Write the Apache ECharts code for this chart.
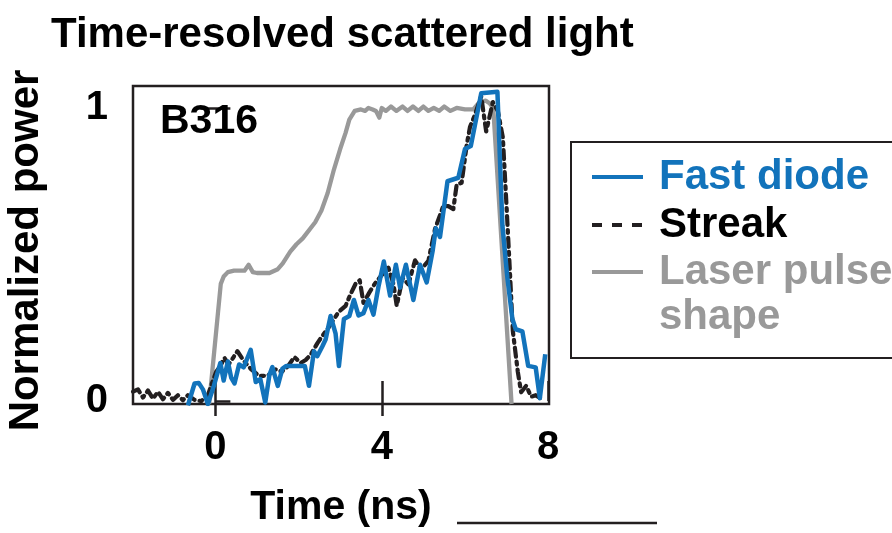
<!DOCTYPE html>
<html>
<head>
<meta charset="utf-8">
<script src="https://cdn.jsdelivr.net/npm/echarts@6/dist/echarts.min.js"></script>
<style>
  html, body { margin: 0; padding: 0; background: #ffffff; }
  #chart { width: 892px; height: 533px; }
</style>
</head>
<body>
<div id="chart"></div>
<script>
// ---- Data ----
const xTickValues = [0, 4, 8];
const yTickValues = [0, 1];

// Laser pulse shape (gray)
const laserTime  = [-0.15, 0.13, 0.2, 0.3, 0.45, 0.7, 0.8, 0.9, 1.0, 1.3, 1.5, 1.62, 1.8, 1.95, 2.1, 2.4, 2.55, 2.7, 2.85, 3.0, 3.13, 3.22, 3.35, 3.5, 3.6, 3.68, 3.78, 3.86, 3.94, 4.0, 4.1, 4.22, 4.35, 4.5, 4.62, 4.75, 4.88, 5.0, 5.12, 5.25, 5.38, 5.5, 5.65, 5.8, 6.0, 6.2, 6.35, 6.5, 6.6, 6.68, 7.12];
const laserPower = [-0.01, 0.40, 0.425, 0.44, 0.445, 0.445, 0.465, 0.44, 0.437, 0.437, 0.45, 0.47, 0.51, 0.535, 0.555, 0.61, 0.65, 0.71, 0.79, 0.86, 0.915, 0.96, 0.99, 0.995, 0.99, 1.0, 0.995, 0.99, 0.967, 1.0, 0.99, 1.005, 0.99, 1.005, 0.99, 1.005, 0.99, 1.005, 0.99, 1.0, 0.99, 1.005, 0.99, 1.0, 0.995, 0.995, 1.02, 1.025, 1.015, 1.0, -0.01];

// Fast diode (blue)
const diodeTime  = [-0.66, -0.5, -0.4, -0.3, -0.18, -0.04, 0.12, 0.2, 0.3, 0.38, 0.46, 0.57, 0.68, 0.85, 0.97, 1.08, 1.2, 1.3, 1.37, 1.5, 1.61, 1.7, 2.15, 2.25, 2.37, 2.45, 2.57, 2.65, 2.77, 2.89, 2.97, 3.09, 3.22, 3.33, 3.44, 3.56, 3.68, 3.8, 3.92, 4.05, 4.2, 4.34, 4.44, 4.58, 4.76, 4.92, 5.08, 5.22, 5.3, 5.4, 5.58, 5.84, 6.0, 6.14, 6.39, 6.78, 6.9, 7.02, 7.14, 7.22, 7.38, 7.52, 7.7, 7.8, 7.93];
const diodePower = [-0.015, 0.06, 0.062, 0.04, -0.01, 0.05, 0.13, 0.07, 0.135, 0.08, 0.06, 0.125, 0.115, 0.175, 0.065, 0.075, -0.005, 0.09, 0.116, 0.052, 0.11, 0.12, 0.12, 0.052, 0.17, 0.153, 0.186, 0.21, 0.29, 0.23, 0.12, 0.28, 0.29, 0.345, 0.292, 0.3, 0.345, 0.295, 0.39, 0.476, 0.36, 0.465, 0.387, 0.465, 0.345, 0.465, 0.405, 0.51, 0.59, 0.56, 0.75, 0.762, 0.86, 0.87, 1.05, 1.055, 0.6, 0.42, 0.28, 0.245, 0.238, 0.12, 0.115, 0.01, 0.16];

// Streak (black, dash-dot)
const streakTime  = [-1.98, -1.86, -1.74, -1.62, -1.5, -1.38, -1.26, -1.14, -1.02, -0.9, -0.78, -0.66, -0.5, -0.34, -0.18, -0.06, 0.02, 0.12, 0.22, 0.32, 0.53, 0.69, 0.85, 1.05, 1.25, 1.45, 1.6, 1.75, 1.9, 2.05, 2.17, 2.29, 2.45, 2.61, 2.73, 2.85, 2.97, 3.13, 3.25, 3.37, 3.47, 3.56, 3.7, 3.84, 4.0, 4.16, 4.28, 4.36, 4.5, 4.64, 4.8, 4.95, 5.12, 5.28, 5.48, 5.6, 5.72, 5.8, 5.92, 6.04, 6.12, 6.24, 6.39, 6.51, 6.67, 6.79, 6.91, 6.99, 7.07, 7.15, 7.27, 7.35, 7.47, 7.59, 7.7, 7.83];
const streakPower = [0.032, 0.04, 0.012, 0.036, 0.008, 0.032, 0.006, 0.028, 0.004, 0.02, 0.003, 0.02, 0.004, 0.0, 0.02, 0.07, 0.1, 0.12, 0.147, 0.125, 0.17, 0.136, 0.11, 0.086, 0.086, 0.108, 0.1, 0.12, 0.15, 0.13, 0.14, 0.158, 0.197, 0.23, 0.253, 0.28, 0.305, 0.325, 0.365, 0.4, 0.412, 0.335, 0.37, 0.402, 0.43, 0.455, 0.4, 0.325, 0.42, 0.398, 0.48, 0.45, 0.478, 0.587, 0.666, 0.665, 0.655, 0.738, 0.745, 0.872, 0.935, 0.977, 1.04, 0.92, 1.02, 0.99, 0.9, 0.69, 0.47, 0.24, 0.1, 0.03, 0.052, 0.015, 0.02, 0.008];

// ---- Styling ----
const FONT = "'Liberation Sans', Arial, Helvetica, sans-serif";
const BLUE = '#1273bb';
const GRAY = '#999999';
const INK = '#231f20';

function zip(xs, ys) { return xs.map((x, i) => [x, ys[i]]); }

const chart = echarts.init(document.getElementById('chart'), null, { renderer: 'canvas' });

const boldText = { fontFamily: FONT, fontWeight: 'bold', color: '#000' };

const option = {
  animation: false,
  backgroundColor: '#ffffff',
  title: {
    text: 'Time-resolved scattered light',
    left: 51, top: 14, padding: 0,
    textStyle: Object.assign({ fontSize: 42 }, boldText)
  },
  grid: {
    left: 133, top: 86, width: 416, height: 326,
    show: true, borderColor: INK, borderWidth: 2.5, backgroundColor: 'transparent'
  },
  xAxis: [
    {
      type: 'value', position: 'bottom', min: -1.98, max: 8.02,
      axisLine: { show: false }, splitLine: { show: false },
      axisTick: { show: true, inside: true, length: 20, customValues: xTickValues, lineStyle: { color: INK, width: 2.5 } },
      axisLabel: Object.assign({ customValues: xTickValues, fontSize: 40, margin: 24 }, boldText),
      name: 'Time (ns)', nameLocation: 'middle', nameGap: 83,
      nameTextStyle: Object.assign({ fontSize: 41 }, boldText)
    },
    {
      type: 'value', position: 'top', min: -1.98, max: 8.02,
      axisLine: { show: false }, splitLine: { show: false },
      axisTick: { show: true, inside: true, length: 15, customValues: [0, 4], lineStyle: { color: INK, width: 2.5 } },
      axisLabel: { show: false }
    }
  ],
  yAxis: [
    {
      type: 'value', position: 'left', min: -0.01, max: 1.075,
      axisLine: { show: false }, splitLine: { show: false },
      axisTick: { show: true, inside: true, length: 15, customValues: yTickValues, lineStyle: { color: INK, width: 2.5 } },
      axisLabel: Object.assign({ customValues: yTickValues, fontSize: 40, margin: 25 }, boldText),
      name: 'Normalized power', nameLocation: 'middle', nameGap: 86,
      nameTextStyle: Object.assign({ fontSize: 42, padding: [0, 11, 0, 0] }, boldText)
    },
    {
      type: 'value', position: 'right', min: -0.01, max: 1.075,
      axisLine: { show: false }, splitLine: { show: false },
      axisTick: { show: true, inside: true, length: 15, customValues: [1], lineStyle: { color: INK, width: 2.5 } },
      axisLabel: { show: false }
    }
  ],
  series: [
    {
      name: 'Laser pulse shape', type: 'line', xAxisIndex: 0, yAxisIndex: 0,
      data: zip(laserTime, laserPower), showSymbol: false, symbol: 'none',
      lineStyle: { color: GRAY, width: 4.3, join: 'round' }, z: 2
    },
    {
      name: 'Streak', type: 'line', xAxisIndex: 0, yAxisIndex: 0,
      data: zip(streakTime, streakPower), showSymbol: false, symbol: 'none',
      lineStyle: { color: INK, width: 4.2, type: [9, 5, 3, 5], cap: 'round', join: 'round' }, z: 3
    },
    {
      name: 'Fast diode', type: 'line', xAxisIndex: 0, yAxisIndex: 0,
      data: zip(diodeTime, diodePower), showSymbol: false, symbol: 'none',
      lineStyle: { color: BLUE, width: 4.5, join: 'round' }, z: 4
    }
  ],
  graphic: [
    { type: 'text', left: 160, top: 101, style: { text: 'B316', font: 'bold 41px ' + FONT, fill: '#000' }, z: 10 },
    // legend box
    { type: 'rect', shape: { x: 571, y: 142, width: 340, height: 216 }, style: { fill: '#fff', stroke: INK, lineWidth: 2 }, z: 10 },
    { type: 'line', shape: { x1: 592, y1: 177, x2: 643, y2: 177 }, style: { stroke: BLUE, lineWidth: 4 }, z: 11 },
    { type: 'line', shape: { x1: 592, y1: 225, x2: 643, y2: 225 }, style: { stroke: INK, lineWidth: 4, lineDash: [10, 10] }, z: 11 },
    { type: 'line', shape: { x1: 592, y1: 272, x2: 643, y2: 272 }, style: { stroke: GRAY, lineWidth: 4 }, z: 11 },
    { type: 'text', x: 659, y: 177, style: { text: 'Fast diode', font: 'bold 42px ' + FONT, fill: BLUE, verticalAlign: 'middle' }, z: 11 },
    { type: 'text', x: 659, y: 225, style: { text: 'Streak', font: 'bold 42px ' + FONT, fill: '#000', verticalAlign: 'middle' }, z: 11 },
    { type: 'text', x: 659, y: 272, style: { text: 'Laser pulse', font: 'bold 42px ' + FONT, fill: GRAY, verticalAlign: 'middle' }, z: 11 },
    { type: 'text', x: 659, y: 317, style: { text: 'shape', font: 'bold 42px ' + FONT, fill: GRAY, verticalAlign: 'middle' }, z: 11 },
    // underline next to axis title
    { type: 'line', shape: { x1: 457, y1: 523, x2: 657, y2: 523 }, style: { stroke: INK, lineWidth: 2.5 }, z: 10 }
  ]
};

chart.setOption(option);
</script>
</body>
</html>
